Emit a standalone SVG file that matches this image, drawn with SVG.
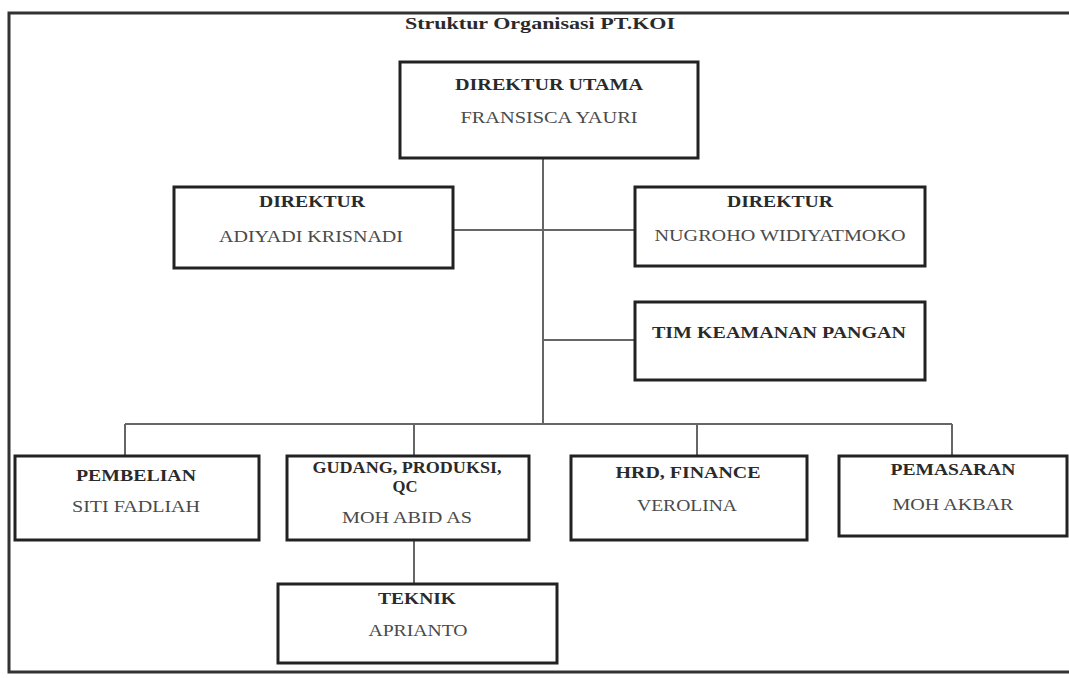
<svg xmlns="http://www.w3.org/2000/svg" width="1069" height="678" viewBox="0 0 1069 678">
<style>
.box{fill:#fff;stroke:#222;stroke-width:3}
.ln{stroke:#666;stroke-width:2;fill:none}
.t{font-family:"Liberation Serif",serif;font-size:16px;fill:#2a2a2a;text-anchor:middle}
.b{font-weight:bold}
.n{fill:#4a4a4a}
</style>
<rect x="0" y="0" width="1069" height="678" fill="#fff"/>
<rect id="frame" x="9" y="13" width="1070" height="659" fill="none" stroke="#333" stroke-width="3"/>
<text class="t b" x="540" y="29" font-size="15" textLength="270" lengthAdjust="spacingAndGlyphs">Struktur Organisasi PT.KOI</text>
<g id="connectors">
<path class="ln" d="M543 158V424M453 230H635M543 340H635M125 424H952M125 424V456M414 424V456M697 424V456M952 424V456M414 540V584"/>
</g>
<g id="direktur-utama"><rect class="box" x="400" y="62" width="298" height="96"/><text class="t b" x="549" y="90" textLength="188" lengthAdjust="spacingAndGlyphs">DIREKTUR UTAMA</text><text class="t n" x="549" y="123" textLength="177" lengthAdjust="spacingAndGlyphs">FRANSISCA YAURI</text></g>
<g id="direktur-1"><rect class="box" x="174" y="187" width="279" height="81"/><text class="t b" x="312" y="207" textLength="106" lengthAdjust="spacingAndGlyphs">DIREKTUR</text><text class="t n" x="311" y="242" textLength="184" lengthAdjust="spacingAndGlyphs">ADIYADI KRISNADI</text></g>
<g id="direktur-2"><rect class="box" x="635" y="187" width="290" height="79"/><text class="t b" x="780" y="207" textLength="106" lengthAdjust="spacingAndGlyphs">DIREKTUR</text><text class="t n" x="780" y="241" textLength="251" lengthAdjust="spacingAndGlyphs">NUGROHO WIDIYATMOKO</text></g>
<g id="tim-keamanan"><rect class="box" x="635" y="302" width="290" height="78"/><text class="t b" x="779" y="338" textLength="254" lengthAdjust="spacingAndGlyphs">TIM KEAMANAN PANGAN</text></g>
<g id="pembelian"><rect class="box" x="15" y="456" width="244" height="84"/><text class="t b" x="136" y="481" textLength="120" lengthAdjust="spacingAndGlyphs">PEMBELIAN</text><text class="t n" x="136" y="512" textLength="128" lengthAdjust="spacingAndGlyphs">SITI FADLIAH</text></g>
<g id="gudang"><rect class="box" x="287" y="456" width="242" height="84"/><text class="t b" x="407" y="473" textLength="189" lengthAdjust="spacingAndGlyphs">GUDANG, PRODUKSI,</text><text class="t b" x="405" y="492" textLength="25" lengthAdjust="spacingAndGlyphs">QC</text><text class="t n" x="407" y="523" textLength="130" lengthAdjust="spacingAndGlyphs">MOH ABID AS</text></g>
<g id="hrd"><rect class="box" x="571" y="456" width="236" height="84"/><text class="t b" x="688" y="478" textLength="145" lengthAdjust="spacingAndGlyphs">HRD, FINANCE</text><text class="t n" x="687" y="511" textLength="100" lengthAdjust="spacingAndGlyphs">VEROLINA</text></g>
<g id="pemasaran"><rect class="box" x="839" y="456" width="228" height="80"/><text class="t b" x="953" y="475" textLength="125" lengthAdjust="spacingAndGlyphs">PEMASARAN</text><text class="t n" x="953" y="510" textLength="121" lengthAdjust="spacingAndGlyphs">MOH AKBAR</text></g>
<g id="teknik"><rect class="box" x="278" y="584" width="279" height="79"/><text class="t b" x="417" y="604" textLength="78" lengthAdjust="spacingAndGlyphs">TEKNIK</text><text class="t n" x="418" y="636" textLength="99" lengthAdjust="spacingAndGlyphs">APRIANTO</text></g>
</svg>
